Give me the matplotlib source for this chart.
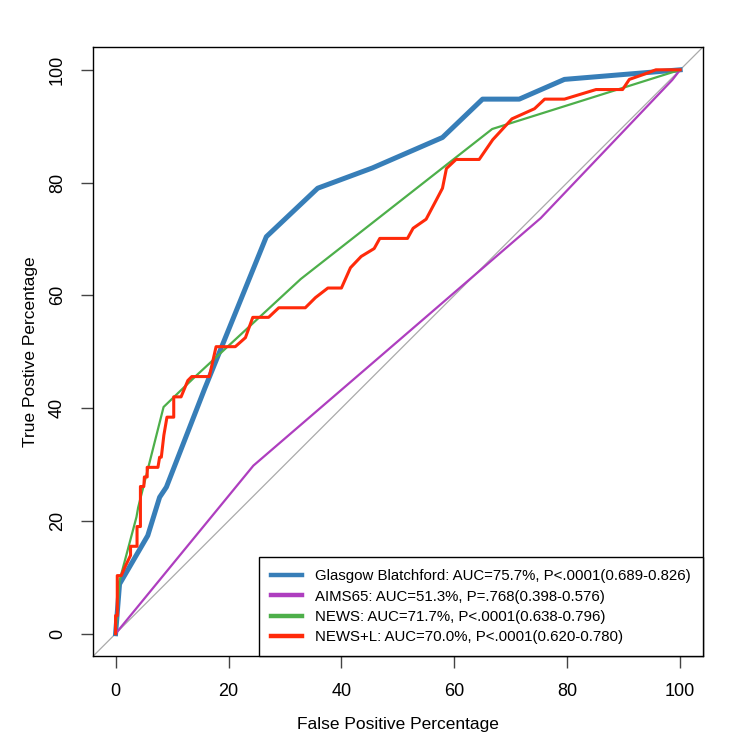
import matplotlib
matplotlib.use("Agg")
import matplotlib.pyplot as plt
from matplotlib.lines import Line2D

# ROC curves (false positive %, true positive %)
gbs_fpr = [0, 0.7, 5.7, 7.8, 9.0, 15.8, 26.7, 35.8, 45.5, 57.9, 65.0, 71.5, 79.5, 100]
gbs_tpr = [0, 8.8, 17.4, 24.2, 26.0, 43.5, 70.4, 79.0, 82.6, 88.0, 94.8, 94.8, 98.3, 100]

aims_fpr = [0, 24.4, 46.1, 75.3, 98.6, 100]
aims_tpr = [0, 29.8, 48.5, 73.7, 98.2, 100]

news_fpr = [0, 0.7, 3.7, 4.0, 8.5, 14.0, 32.8, 66.7, 100]
news_tpr = [0, 9.4, 20.7, 22.4, 40.2, 45.5, 62.9, 89.5, 100]

newsl_fpr = [0, 0, 0.3, 0.3, 1.0, 1.7, 2.65, 2.65, 3.8, 3.8, 4.4, 4.4, 5.0, 5.1, 5.6,
             5.6, 7.5, 7.8, 8.1, 8.55, 9.1, 10.3, 10.3, 11.6, 12.8, 13.5, 16.6, 17.8,
             21.2, 23.0, 24.3, 27.1, 28.9, 33.6, 35.4, 37.6, 40.0, 41.6, 43.5, 45.8,
             46.8, 51.7, 52.7, 55.0, 56.8, 57.9, 58.6, 60.3, 64.4, 66.8, 68.0, 70.2,
             74.2, 76.0, 79.5, 85.1, 89.8, 91.0, 93.3, 95.7, 100]
newsl_tpr = [0, 3.2, 3.2, 10.3, 10.3, 11.9, 13.9, 15.5, 15.5, 19.0, 19.0, 26.1, 26.1,
             27.8, 27.8, 29.5, 29.5, 31.3, 31.3, 35.2, 38.4, 38.4, 42.0, 42.0, 44.9,
             45.6, 45.6, 50.9, 50.9, 52.5, 56.1, 56.1, 57.8, 57.8, 59.6, 61.3, 61.3,
             64.9, 66.9, 68.3, 70.1, 70.1, 71.9, 73.5, 76.9, 79.0, 82.5, 84.1, 84.1,
             87.6, 88.9, 91.3, 93.1, 94.8, 94.8, 96.5, 96.5, 98.3, 99.1, 100, 100]

labels = ["Glasgow Blatchford: AUC=75.7%, P<.0001(0.689-0.826)",
          "AIMS65: AUC=51.3%, P=.768(0.398-0.576)",
          "NEWS: AUC=71.7%, P<.0001(0.638-0.796)",
          "NEWS+L: AUC=70.0%, P<.0001(0.620-0.780)"]
colors = ["#377EB8", "#AE3EBF", "#4DAF4A", "#FF2A0A"]

plt.rcParams["font.family"] = ["Liberation Sans", "DejaVu Sans"]

fig = plt.figure(figsize=(7.5, 7.5), dpi=100)
ax = fig.add_axes([0.124, 0.125, 0.813, 0.812])

ax.plot([-10, 110], [-10, 110], color="#AAAAAA", lw=0.9, zorder=1)
ax.plot(gbs_fpr, gbs_tpr, color=colors[0], lw=3.6, zorder=2)
ax.plot(aims_fpr, aims_tpr, color=colors[1], lw=1.6, zorder=3)
ax.plot(news_fpr, news_tpr, color=colors[2], lw=1.6, zorder=4)
ax.plot(newsl_fpr, newsl_tpr, color=colors[3], lw=2.2, zorder=5)

ax.set_xlim(-4, 104)
ax.set_ylim(-4, 104)
ticks = [0, 20, 40, 60, 80, 100]
ax.set_xticks(ticks)
ax.set_yticks(ticks)
ax.set_yticklabels([str(t) for t in ticks], rotation=90, va="center")
ax.tick_params(direction="out", length=8.5, width=1, labelsize=13, pad=11,
               color="#444444")
for s in ax.spines.values():
    s.set_linewidth(1)

ax.set_xlabel("False Positive Percentage", fontsize=12.5, labelpad=12)
ax.set_ylabel("True Postive Percentage", fontsize=12.5, labelpad=8)

handles = [Line2D([], [], color=c, lw=3.2) for c in colors]
leg = ax.legend(handles, labels, loc="lower right", fontsize=10.8, frameon=True,
                fancybox=False, edgecolor="black", framealpha=1,
                borderpad=0.8, handlelength=2.1, handletextpad=0.85,
                labelspacing=0.42, borderaxespad=0)
leg.get_frame().set_linewidth(1)

fig.savefig("out.png", dpi=100)
